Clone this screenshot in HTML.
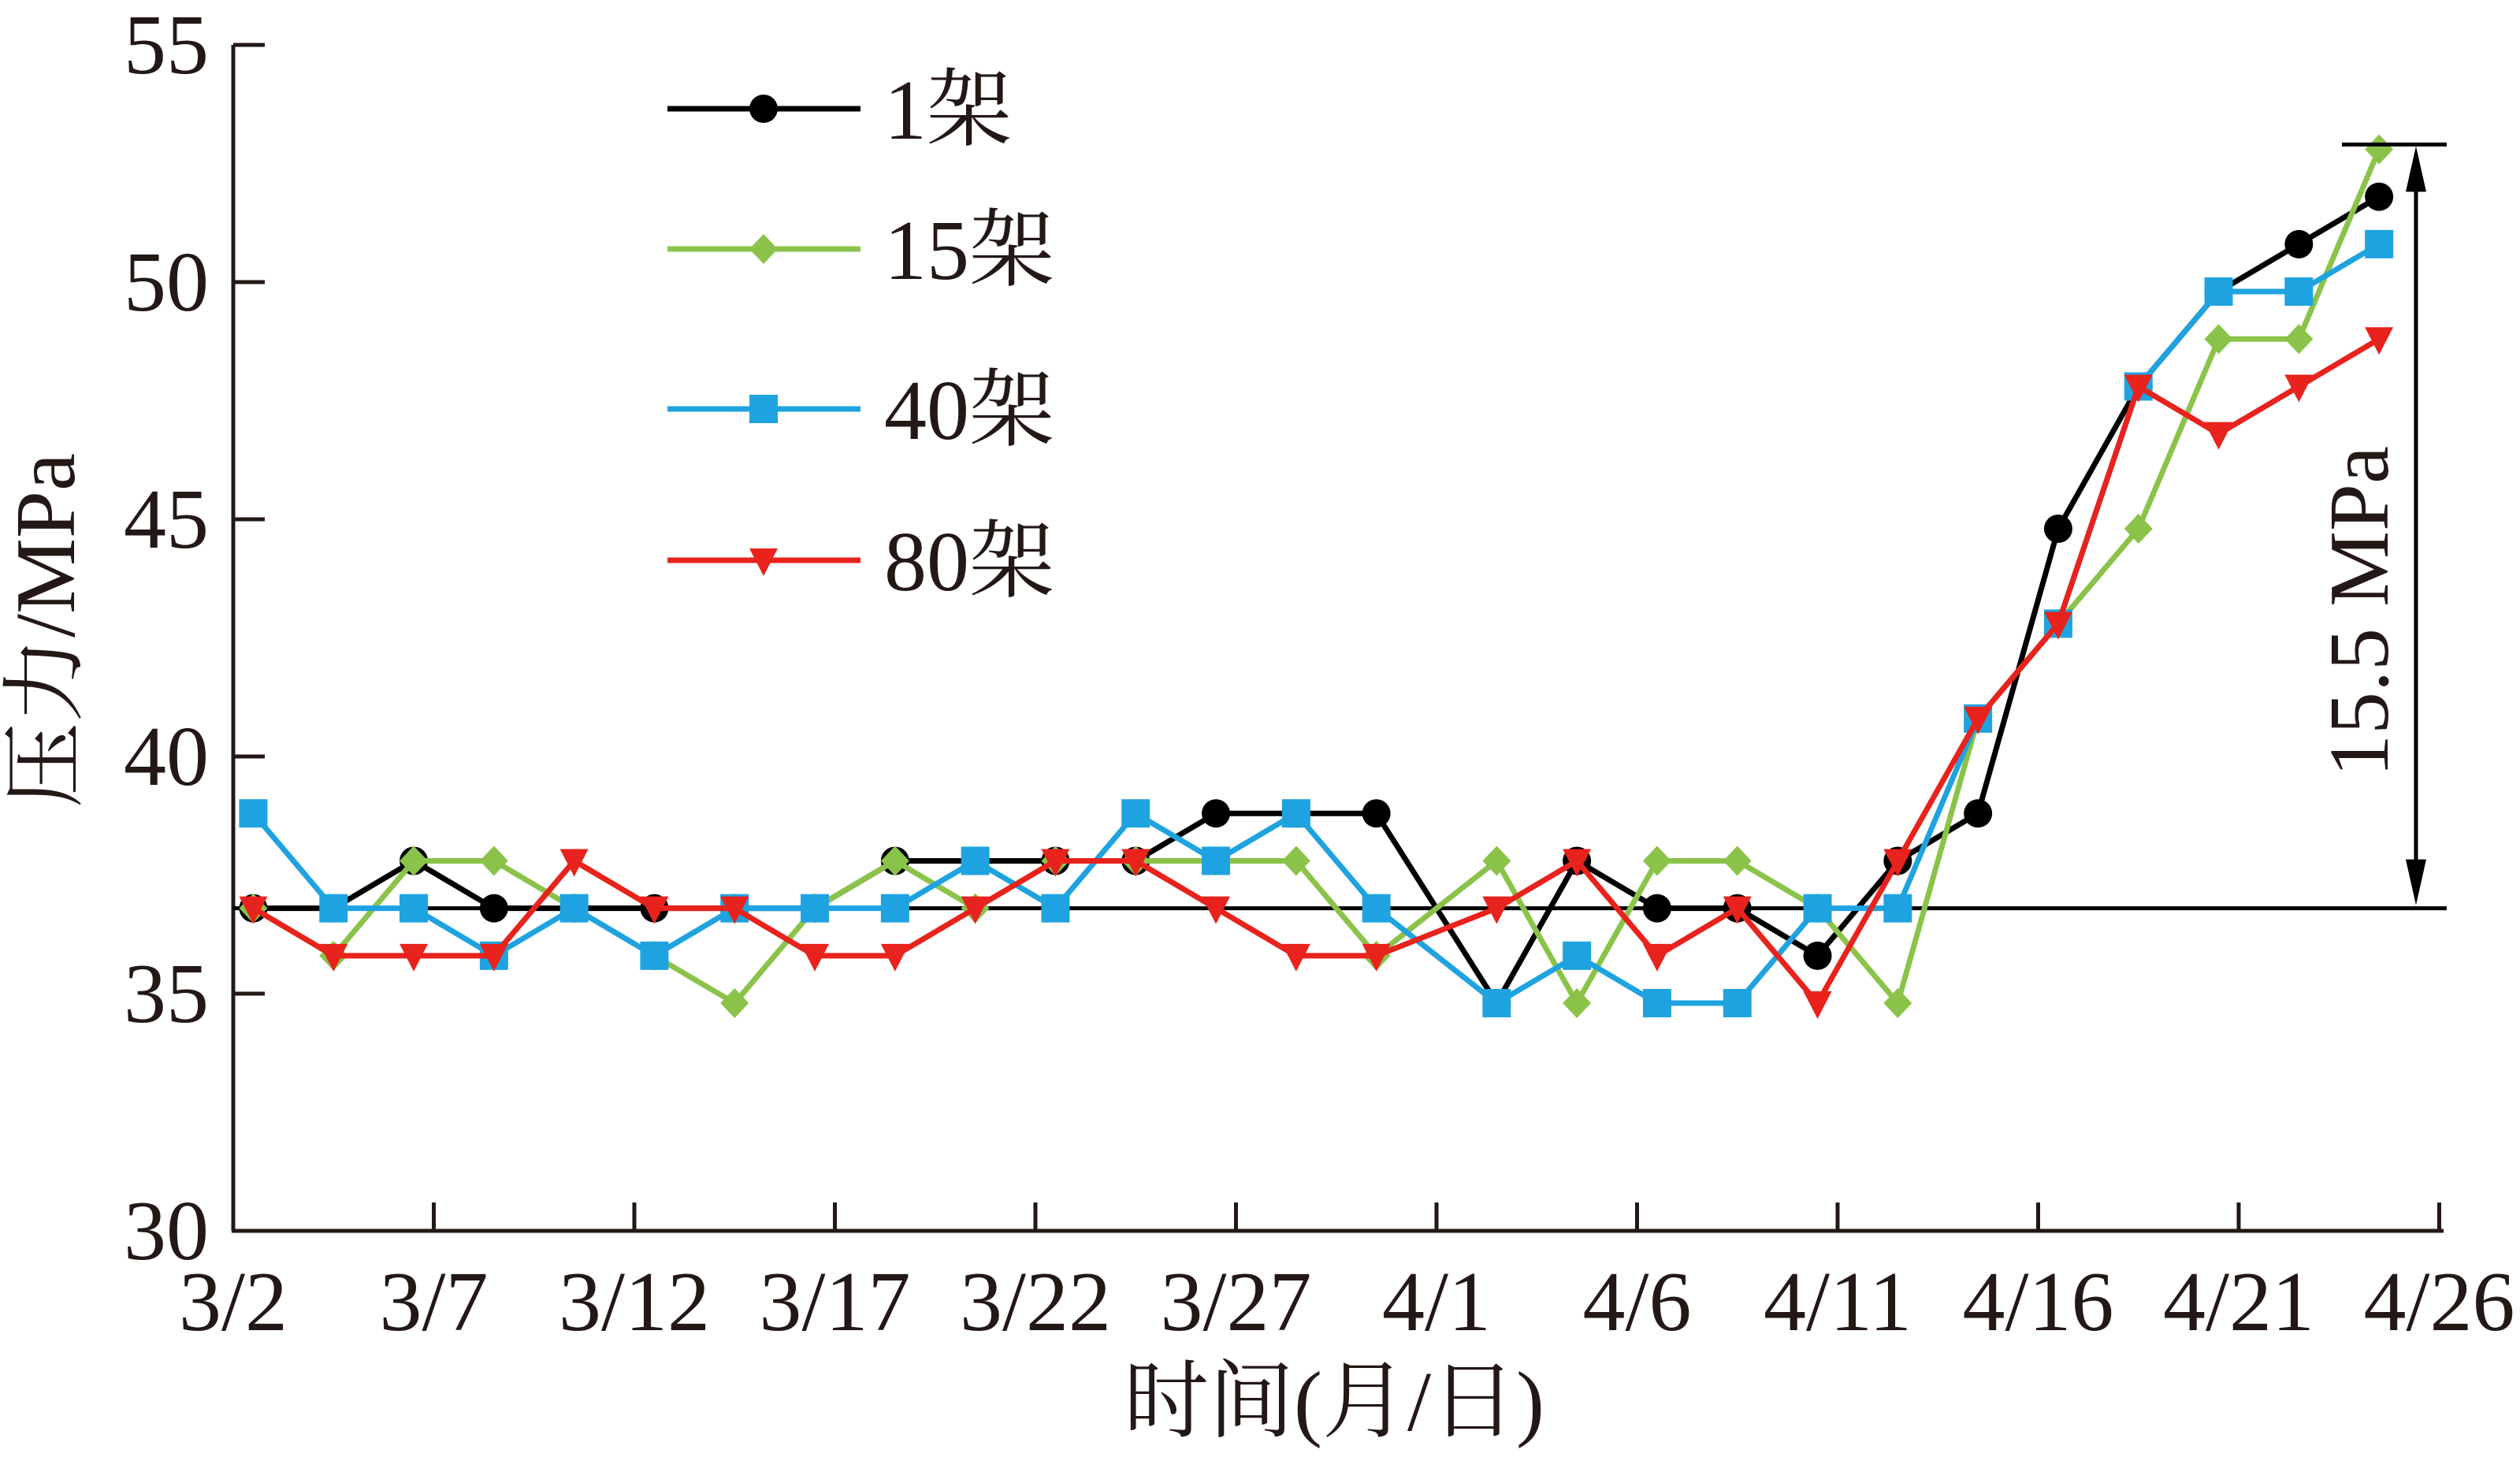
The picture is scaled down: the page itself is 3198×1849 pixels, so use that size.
<!DOCTYPE html>
<html><head><meta charset="utf-8"><style>
html,body{margin:0;padding:0;background:#fff}
svg{display:block}
text{font-family:"Liberation Serif","Noto Serif CJK SC",serif;fill:#231815}
</style></head><body>
<svg id="chart" width="3198" height="1849" viewBox="0 0 3198 1849" xmlns="http://www.w3.org/2000/svg">
<g id="axes"></g>
<g id="series"></g>
<g id="legend"></g>
</svg>
<script>
const dayPositions = [0.5,2.5,4.5,6.5,8.5,10.5,12.5,14.5,16.5,18.5,20.5,22.5,24.5,26.5,28.5,31.5,33.5,35.5,37.5,39.5,41.5,43.5,45.5,47.5,49.5,51.5,53.5];
const s1 = [36.8,36.8,37.8,36.8,36.8,36.8,36.8,36.8,37.8,37.8,37.8,37.8,38.8,38.8,38.8,34.8,37.8,36.8,36.8,35.8,37.8,38.8,44.8,47.8,49.8,50.8,51.8];
const s15 = [36.8,35.8,37.8,37.8,36.8,35.8,34.8,36.8,37.8,36.8,37.8,37.8,37.8,37.8,35.8,37.8,34.8,37.8,37.8,36.8,34.8,40.8,42.8,44.8,48.8,48.8,52.8];
const s40 = [38.8,36.8,36.8,35.8,36.8,35.8,36.8,36.8,36.8,37.8,36.8,38.8,37.8,38.8,36.8,34.8,35.8,34.8,34.8,36.8,36.8,40.8,42.8,47.8,49.8,49.8,50.8];
const s80 = [36.8,35.8,35.8,35.8,37.8,36.8,36.8,35.8,35.8,36.8,37.8,37.8,36.8,35.8,35.8,36.8,37.8,35.8,36.8,34.8,37.8,40.8,42.8,47.8,46.8,47.8,48.8];
const xTickLabels = ["3/2","3/7","3/12","3/17","3/22","3/27","4/1","4/6","4/11","4/16","4/21","4/26"];
const yTicks = [30,35,40,45,50,55];
const seriesNames = ["1架","15架","40架","80架"];
const baseline = 36.8;
const peak = 52.9;
const diffLabel = "15.5 MPa";

const NS="http://www.w3.org/2000/svg";
const X0=296, DAY=50.9, Y30=1562, PERMPA=60.2;
const xs=d=>X0+d*DAY;
const ys=v=>Y30-(v-30)*PERMPA;
function mk(tag,attrs,parent){const e=document.createElementNS(NS,tag);for(const k in attrs)e.setAttribute(k,attrs[k]);parent.appendChild(e);return e;}
const axes=document.getElementById('axes'), ser=document.getElementById('series'), leg=document.getElementById('legend');
const C="#231815";
let e;
e=mk('line',{x1:X0,y1:ys(55),x2:X0,y2:Y30,stroke:C,'stroke-width':5},axes);

e=mk('line',{x1:X0-2,y1:Y30,x2:3101,y2:Y30,stroke:C,'stroke-width':5},axes);

yTicks.forEach(v=>{
 e=mk('line',{x1:X0,y1:ys(v),x2:X0+40,y2:ys(v),stroke:C,'stroke-width':5},axes);
 
 e=mk('text',{x:265,y:ys(v)+36,'text-anchor':'end','font-size':108},axes);e.textContent=v;
 
});
xTickLabels.forEach((t,i)=>{
 const x=xs(i*5);
 if(i>0){e=mk('line',{x1:x,y1:Y30,x2:x,y2:Y30-36,stroke:C,'stroke-width':5},axes);
 }
 e=mk('text',{x:x,y:1688,'text-anchor':'middle','font-size':108},axes);e.textContent=t;
 
});
e=mk('text',{x:1693,y:1815,'text-anchor':'middle','font-size':108},axes);e.textContent="时间(月/日)";

e=mk('text',{x:0,y:0,'text-anchor':'middle','font-size':108,transform:'translate(94,800) rotate(-90)'},axes);e.textContent="压力/MPa";


function marker(type,x,y,color,g){
 if(type==='circle')return mk('circle',{cx:x,cy:y,r:18,fill:color},g);
 if(type==='square')return mk('rect',{x:x-18,y:y-18,width:36,height:36,fill:color},g);
 if(type==='diamond')return mk('polygon',{points:`${x},${y-19} ${x+18},${y} ${x},${y+19} ${x-18},${y}`,fill:color},g);
 return mk('polygon',{points:`${x-18},${y-15} ${x+18},${y-15} ${x},${y+20}`,fill:color},g);
}
const defs=[[s1,"#000000","circle","series-1"],[s15,"#8bc34a","diamond","series-15"],[s40,"#1fa3e0","square","series-40"],[s80,"#e8221c","triangle","series-80"]];
e=mk('line',{x1:X0,y1:ys(baseline),x2:3105,y2:ys(baseline),stroke:"#000",'stroke-width':5},ser);

defs.forEach(([vals,color,mt,name])=>{
 const g=mk('g',{},ser);
 
 const p=mk('polyline',{points:vals.map((v,i)=>xs(dayPositions[i])+','+ys(v)).join(' '),fill:'none',stroke:color,'stroke-width':7,'stroke-linejoin':'round'},g);
 
 vals.forEach((v,i)=>{const m=marker(mt,xs(dayPositions[i]),ys(v),color,g);
  });
});
const ax=3066;
e=mk('line',{x1:2972,y1:ys(peak),x2:3105,y2:ys(peak),stroke:"#000",'stroke-width':5},ser);

e=mk('line',{x1:ax,y1:ys(peak)+40,x2:ax,y2:ys(baseline)-40,stroke:"#000",'stroke-width':5},ser);

e=mk('polygon',{points:`${ax},${ys(peak)+2} ${ax-13},${ys(peak)+60} ${ax+13},${ys(peak)+60}`,fill:"#000"},ser);

e=mk('polygon',{points:`${ax},${ys(baseline)-4} ${ax-13},${ys(baseline)-62} ${ax+13},${ys(baseline)-62}`,fill:"#000"},ser);

e=mk('text',{x:0,y:0,'text-anchor':'middle','font-size':108,transform:`translate(3030,776) rotate(-90)`},ser);e.textContent=diffLabel;

const ly=[138,316,519,711];
defs.forEach(([vals,color,mt,name],i)=>{
 const g=mk('g',{},leg);
 
 mk('line',{x1:847,y1:ly[i],x2:1092,y2:ly[i],stroke:color,'stroke-width':7},g);
 marker(mt,969,ly[i],color,g);
 const t=mk('text',{x:1122,y:ly[i]+38,'font-size':108},g);t.textContent=seriesNames[i];
});
</script>
</body></html>
